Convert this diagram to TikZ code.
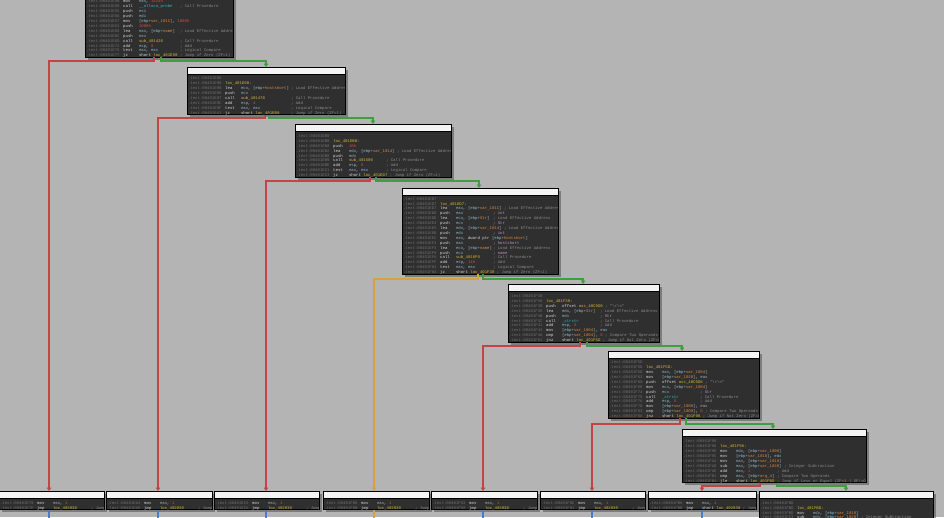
\documentclass[tikz,border=0pt]{standalone}
\usepackage{fontspec}
\setmonofont{Liberation Mono}
\usetikzlibrary{arrows.meta,shadows}
\definecolor{cbg}{HTML}{B4B4B4}
\definecolor{cblk}{HTML}{2F2F2F}
\definecolor{chdr}{HTML}{F4F4F4}
\definecolor{caddr}{HTML}{707070}
\definecolor{cmn}{HTML}{D8D8D8}
\definecolor{creg}{HTML}{8FB8C8}
\definecolor{cvar}{HTML}{E08A40}
\definecolor{cnum}{HTML}{E04848}
\definecolor{clab}{HTML}{D8B838}
\definecolor{cfun}{HTML}{30B8C0}
\definecolor{ccmt}{HTML}{8A8A8A}
\definecolor{cstr}{HTML}{C890C8}
\definecolor{ceR}{HTML}{C24545}
\definecolor{ceG}{HTML}{3F9F3F}
\definecolor{ceO}{HTML}{D6A23A}
\definecolor{ceB}{HTML}{4A7CCB}
\newlength\xopw
\newcommand\xcode{\ttfamily\fontsize{4}{4.9}\selectfont}
\newcommand\xA[1]{\makebox[37.2pt][l]{\color{caddr}.text:#1}}
\newcommand\xE[1]{{\color{caddr}.text:#1}}
\newcommand\xOps[1]{\setbox0=\hbox{#1}\ifdim\wd0<\xopw\makebox[\xopw][l]{\box0}\else\box0\hspace{2.4pt}\fi}
\newcommand\xI[4]{\xA{#1}\makebox[15.8pt][l]{\color{cmn}#2}\xOps{#3}{\color{ccmt}#4}}
\newcommand\xL[2]{\xA{#1}{\color{clab}#2:}}
\newcommand\xR[1]{{\color{creg}#1}}
\newcommand\xV[1]{{\color{cvar}#1}}
\newcommand\xN[1]{{\color{cnum}#1}}
\newcommand\xB[1]{{\color{clab}#1}}
\newcommand\xF[1]{{\color{cfun}#1}}
\newcommand\xS[1]{{\color{cstr}#1}}
\newcommand\xM[1]{\xR{[ebp+}\xV{#1}\xR{]}}
\tikzset{
  blk/.style={draw=black, line width=0.9pt, fill=cblk, inner sep=0pt, outer sep=0pt, anchor=north west,
    drop shadow={shadow xshift=2.5pt,shadow yshift=-2.5pt,opacity=0.3,fill=black}},
  hdr/.style={draw=black, line width=0.9pt, fill=chdr},
  asmtxt/.style={anchor=north west, inner sep=0pt, align=left, text=cmn, font={\xcode\setlength{\xopw}{#1}}},
  eR/.style={draw=ceR, line width=1.2pt, -{Triangle[length=3.5pt,width=4.5pt]}},
  eG/.style={draw=ceG, line width=1.2pt, -{Triangle[length=3.5pt,width=4.5pt]}},
  eO/.style={draw=ceO, line width=1.2pt, -{Triangle[length=3.5pt,width=4.5pt]}},
  eB/.style={draw=ceB, line width=1.2pt},
  eOf/.style={draw=ceO, line width=1.2pt}
}
\begin{document}
\begin{tikzpicture}[x=1pt,y=-1pt]
\useasboundingbox (0,0) rectangle (944,517);
\fill[cbg] (0,0) rectangle (944,517);

% ---------- blocks ----------
\node[blk, minimum width=148pt, minimum height=68pt] (b1) at (85,-11) {};
\node[blk, minimum width=158pt, minimum height=47.5pt] (b2) at (187,67) {};
\node[blk, minimum width=156pt, minimum height=53pt] (b3) at (295,124) {};
\node[blk, minimum width=156pt, minimum height=86pt] (b4) at (402,188) {};
\node[blk, minimum width=151pt, minimum height=58pt] (b5) at (508,284) {};
\node[blk, minimum width=151pt, minimum height=67pt] (b6) at (608,351) {};
\node[blk, minimum width=184pt, minimum height=53.5pt] (b7) at (682,429) {};
\node[blk, minimum width=105pt, minimum height=18.5pt] (ba) at (-1,491) {};
\node[blk, minimum width=106pt, minimum height=18.5pt] (bb) at (106,491) {};
\node[blk, minimum width=105pt, minimum height=18.5pt] (bc) at (214,491) {};
\node[blk, minimum width=106pt, minimum height=18.5pt] (bd) at (323,491) {};
\node[blk, minimum width=106pt, minimum height=18.5pt] (be) at (431,491) {};
\node[blk, minimum width=105pt, minimum height=18.5pt] (bf) at (540,491) {};
\node[blk, minimum width=108pt, minimum height=18.5pt] (bg) at (648,491) {};
\node[blk, minimum width=174pt, minimum height=40pt] (bh) at (759,491) {};

\foreach \b in {b1,b2,b3,b4,b5,b6,b7,ba,bb,bc,bd,be,bf,bg,bh}
  \draw[hdr] (\b.north west) rectangle ([yshift=-7pt]\b.north east);

% ---------- code ----------
\begin{scope}
\clip ([shift={(0.5pt,-0.5pt)}]b1.north west) rectangle ([shift={(-0.5pt,0.5pt)}]b1.south east);
\node[asmtxt=41pt] (t1) at ([xshift=0.8pt,yshift=-10.85pt]b1.north west) {%
\xI{00401E4B}{mov}{\xR{eax}, \xN{1424h}}{}\\
\xI{00401E50}{call}{\xF{\_\_alloca\_probe}}{; Call Procedure}\\
\xI{00401E55}{push}{\xR{esi}}{}\\
\xI{00401E56}{push}{\xR{edi}}{}\\
\xI{00401E57}{mov}{\xM{var\_101C}, \xN{1000h}}{}\\
\xI{00401E61}{push}{\xN{1000h}}{}\\
\xI{00401E66}{lea}{\xR{eax}, \xM{name}}{; Load Effective Address}\\
\xI{00401E6C}{push}{\xR{eax}}{}\\
\xI{00401E6D}{call}{\xB{sub\_401420}}{; Call Procedure}\\
\xI{00401E72}{add}{\xR{esp}, \xN{8}}{; Add}\\
\xI{00401E75}{test}{\xR{eax}, \xR{eax}}{; Logical Compare}\\
\xI{00401E77}{jz}{short \xB{loc\_401E90}}{; Jump if Zero (ZF=1)}};
\end{scope}

\begin{scope}
\clip ([shift={(0.5pt,-0.5pt)}]b2.north west) rectangle ([shift={(-0.5pt,0.5pt)}]b2.south east);
\node[asmtxt=50pt] (t2) at ([xshift=0.8pt,yshift=-9.95pt]b2.north west) {%
\xE{00401E90}\\
\xL{00401E90}{loc\_401E90}\\
\xI{00401E90}{lea}{\xR{ecx}, \xM{hostshort}}{; Load Effective Address}\\
\xI{00401E96}{push}{\xR{ecx}}{}\\
\xI{00401E97}{call}{\xB{sub\_401470}}{; Call Procedure}\\
\xI{00401E9C}{add}{\xR{esp}, \xN{4}}{; Add}\\
\xI{00401E9F}{test}{\xR{eax}, \xR{eax}}{; Logical Compare}\\
\xI{00401EA1}{jz}{short \xB{loc\_401EB0}}{; Jump if Zero (ZF=1)}};
\end{scope}

\begin{scope}
\clip ([shift={(0.5pt,-0.5pt)}]b3.north west) rectangle ([shift={(-0.5pt,0.5pt)}]b3.south east);
\node[asmtxt=37pt] (t3) at ([xshift=0.8pt,yshift=-10.55pt]b3.north west) {%
\xE{00401EB0}\\
\xL{00401EB0}{loc\_401EB0}\\
\xI{00401EB0}{push}{\xN{10h}}{}\\
\xI{00401EB2}{lea}{\xR{edx}, \xM{var\_1014}}{; Load Effective Address}\\
\xI{00401EB8}{push}{\xR{edx}}{}\\
\xI{00401EB9}{call}{\xB{sub\_401500}}{; Call Procedure}\\
\xI{00401EBE}{add}{\xR{esp}, \xN{8}}{; Add}\\
\xI{00401EC1}{test}{\xR{eax}, \xR{eax}}{; Logical Compare}\\
\xI{00401EC3}{jz}{short \xB{loc\_401ED7}}{; Jump if Zero (ZF=1)}};
\end{scope}

\begin{scope}
\clip ([shift={(0.5pt,-0.5pt)}]b4.north west) rectangle ([shift={(-0.5pt,0.5pt)}]b4.south east);
\node[asmtxt=37pt] (t4) at ([xshift=0.8pt,yshift=-9.25pt]b4.north west) {%
\xE{00401ED7}\\
\xL{00401ED7}{loc\_401ED7}\\
\xI{00401ED7}{lea}{\xR{eax}, \xM{var\_101C}}{; Load Effective Address}\\
\xI{00401EDD}{push}{\xR{eax}}{\xS{; int}}\\
\xI{00401EDE}{lea}{\xR{ecx}, \xM{Str}}{; Load Effective Address}\\
\xI{00401EE4}{push}{\xR{ecx}}{\xS{; Str}}\\
\xI{00401EE5}{lea}{\xR{edx}, \xM{var\_1014}}{; Load Effective Address}\\
\xI{00401EEB}{push}{\xR{edx}}{\xS{; int}}\\
\xI{00401EEC}{mov}{\xR{eax}, dword ptr \xM{hostshort}}{}\\
\xI{00401EF2}{push}{\xR{eax}}{\xS{; hostshort}}\\
\xI{00401EF3}{lea}{\xR{ecx}, \xM{name}}{; Load Effective Address}\\
\xI{00401EF9}{push}{\xR{ecx}}{\xS{; name}}\\
\xI{00401EFA}{call}{\xB{sub\_4016F0}}{; Call Procedure}\\
\xI{00401EFF}{add}{\xR{esp}, \xN{14h}}{; Add}\\
\xI{00401F02}{test}{\xR{eax}, \xR{eax}}{; Logical Compare}\\
\xI{00401F04}{jz}{short \xB{loc\_401F30}}{; Jump if Zero (ZF=1)}};
\end{scope}

\begin{scope}
\clip ([shift={(0.5pt,-0.5pt)}]b5.north west) rectangle ([shift={(-0.5pt,0.5pt)}]b5.south east);
\node[asmtxt=38pt] (t5) at ([xshift=0.8pt,yshift=-10.65pt]b5.north west) {%
\xE{00401F30}\\
\xL{00401F30}{loc\_401F30}\\
\xI{00401F30}{push}{offset \xB{asc\_40C0D0}}{; "\textbackslash r\textbackslash n"}\\
\xI{00401F35}{lea}{\xR{edx}, \xM{Str}}{; Load Effective Address}\\
\xI{00401F3B}{push}{\xR{edx}}{\xS{; Str}}\\
\xI{00401F3C}{call}{\xF{\_strstr}}{; Call Procedure}\\
\xI{00401F41}{add}{\xR{esp}, \xN{8}}{; Add}\\
\xI{00401F44}{mov}{\xM{var\_1004}, \xR{eax}}{}\\
\xI{00401F4A}{cmp}{\xM{var\_1004}, \xN{0}}{; Compare Two Operands}\\
\xI{00401F51}{jnz}{short \xB{loc\_401F5D}}{; Jump if Not Zero (ZF=0)}};
\end{scope}

\begin{scope}
\clip ([shift={(0.5pt,-0.5pt)}]b6.north west) rectangle ([shift={(-0.5pt,0.5pt)}]b6.south east);
\node[asmtxt=38pt] (t6) at ([xshift=0.8pt,yshift=-9.85pt]b6.north west) {%
\xE{00401F5D}\\
\xL{00401F5D}{loc\_401F5D}\\
\xI{00401F5D}{mov}{\xR{eax}, \xM{var\_1004}}{}\\
\xI{00401F63}{mov}{\xM{var\_1020}, \xR{eax}}{}\\
\xI{00401F69}{push}{offset \xB{asc\_40C0D8}}{; "\textbackslash r\textbackslash n"}\\
\xI{00401F6E}{mov}{\xR{ecx}, \xM{var\_1004}}{}\\
\xI{00401F74}{push}{\xR{ecx}}{\xS{; Str}}\\
\xI{00401F75}{call}{\xF{\_strstr}}{; Call Procedure}\\
\xI{00401F7A}{add}{\xR{esp}, \xN{8}}{; Add}\\
\xI{00401F7D}{mov}{\xM{var\_1008}, \xR{eax}}{}\\
\xI{00401F83}{cmp}{\xM{var\_1008}, \xN{0}}{; Compare Two Operands}\\
\xI{00401F8A}{jnz}{short \xB{loc\_401F96}}{; Jump if Not Zero (ZF=0)}};
\end{scope}

\begin{scope}
\clip ([shift={(0.5pt,-0.5pt)}]b7.north west) rectangle ([shift={(-0.5pt,0.5pt)}]b7.south east);
\node[asmtxt=41pt] (t7) at ([xshift=0.8pt,yshift=-11.05pt]b7.north west) {%
\xE{00401F96}\\
\xL{00401F96}{loc\_401F96}\\
\xI{00401F96}{mov}{\xR{edx}, \xM{var\_1008}}{}\\
\xI{00401F9C}{mov}{\xM{var\_1018}, \xR{edx}}{}\\
\xI{00401FA2}{mov}{\xR{eax}, \xM{var\_1018}}{}\\
\xI{00401FA8}{sub}{\xR{eax}, \xM{var\_1020}}{; Integer Subtraction}\\
\xI{00401FAE}{add}{\xR{eax}, \xN{1}}{; Add}\\
\xI{00401FB1}{cmp}{\xR{eax}, \xM{arg\_4}}{; Compare Two Operands}\\
\xI{00401FB4}{jle}{short \xB{loc\_401FBD}}{; Jump if Less or Equal (ZF=1 | SF!=OF)}};
\end{scope}

\begin{scope}
\clip ([shift={(0.5pt,-0.5pt)}]bh.north west) rectangle ([shift={(-0.5pt,0.5pt)}]bh.south east);
\node[asmtxt=41pt] (th) at ([xshift=0.8pt,yshift=-10.35pt]bh.north west) {%
\xE{00401FBD}\\
\xL{00401FBD}{loc\_401FBD}\\
\xI{00401FBD}{mov}{\xR{edx}, \xM{var\_1018}}{}\\
\xI{00401FC3}{sub}{\xR{edx}, \xM{var\_1020}}{; Integer Subtraction}};
\end{scope}

\foreach \b/\p/\q in {ba/00401E79/00401E7E, bb/00401EA3/00401EA8, bc/00401EC5/00401ECA,
                     bd/00401F06/00401F0B, be/00401F53/00401F58, bf/00401F8C/00401F91}{
\begin{scope}
\clip ([shift={(0.5pt,-0.5pt)}]\b.north west) rectangle ([shift={(-0.5pt,0.5pt)}]\b.south east);
\node[asmtxt=38pt] (t\b) at ([xshift=0.8pt,yshift=-10.35pt]\b.north west) {%
\xI{\p}{mov}{\xR{eax}, \xN{1}}{}\\
\xI{\q}{jmp}{\xB{loc\_402030}}{; Jump}};
\end{scope}}
\begin{scope}
\clip ([shift={(0.5pt,-0.5pt)}]bg.north west) rectangle ([shift={(-0.5pt,0.5pt)}]bg.south east);
\node[asmtxt=38pt] (tbg) at ([xshift=0.8pt,yshift=-10.35pt]bg.north west) {%
\xI{00401FB6}{mov}{\xR{eax}, \xN{1}}{}\\
\xI{00401FBB}{jmp}{short \xB{loc\_402030}}{; Jump}};
\end{scope}

% ---------- connectors ----------
\draw[eR] ([xshift=69pt]b1.south west) -- ++(0,4) -| ([xshift=50pt]ba.north west);
\draw[eG] ([xshift=76pt]b1.south west) -- ++(0,4) -| ([xshift=79pt]b2.north west);
\draw[eR] ([xshift=78pt]b2.south west) -- ++(0,3.5) -| ([xshift=52pt]bb.north west);
\draw[eG] ([xshift=82pt]b2.south west) -- ++(0,3.5) -| ([xshift=78pt]b3.north west);
\draw[eR] ([xshift=75pt]b3.south west) -- ++(0,4) -| ([xshift=52pt]bc.north west);
\draw[eG] ([xshift=81pt]b3.south west) -- ++(0,4) -| ([xshift=77pt]b4.north west);
\draw[eO] ([xshift=76pt]b4.south west) -- ++(0,5) -| ([xshift=51pt]bd.north west);
\draw[eG] ([xshift=81pt]b4.south west) -- ++(0,5) -| ([xshift=75pt]b5.north west);
\draw[eR] ([xshift=72pt]b5.south west) -- ++(0,4) -| ([xshift=52pt]be.north west);
\draw[eG] ([xshift=79pt]b5.south west) -- ++(0,4) -| ([xshift=74pt]b6.north west);
\draw[eR] ([xshift=72pt]b6.south west) -- ++(0,6) -| ([xshift=52pt]bf.north west);
\draw[eG] ([xshift=78pt]b6.south west) -- ++(0,6) -| ([xshift=91pt]b7.north west);
\draw[eR] ([xshift=78pt]b7.south west) -- ++(0,3.5) -| ([xshift=54pt]bg.north west);
\draw[eG] ([xshift=95pt]b7.south west) -- ++(0,3.5) -| ([xshift=87pt]bh.north west);

\coordinate (za) at (49,525);
\coordinate (zb) at (158,525);
\coordinate (zc) at (266,525);
\coordinate (zd) at (374,525);
\coordinate (ze) at (483,525);
\coordinate (zf) at (592,525);
\coordinate (zg) at (702,525);
\draw[eB] ([xshift=50pt]ba.south west) -- (za);
\draw[eB] ([xshift=52pt]bb.south west) -- (zb);
\draw[eB] ([xshift=52pt]bc.south west) -- (zc);
\draw[eOf] ([xshift=51pt]bd.south west) -- (zd);
\draw[eB] ([xshift=52pt]be.south west) -- (ze);
\draw[eB] ([xshift=52pt]bf.south west) -- (zf);
\draw[eB] ([xshift=54pt]bg.south west) -- (zg);
\end{tikzpicture}
\end{document}
